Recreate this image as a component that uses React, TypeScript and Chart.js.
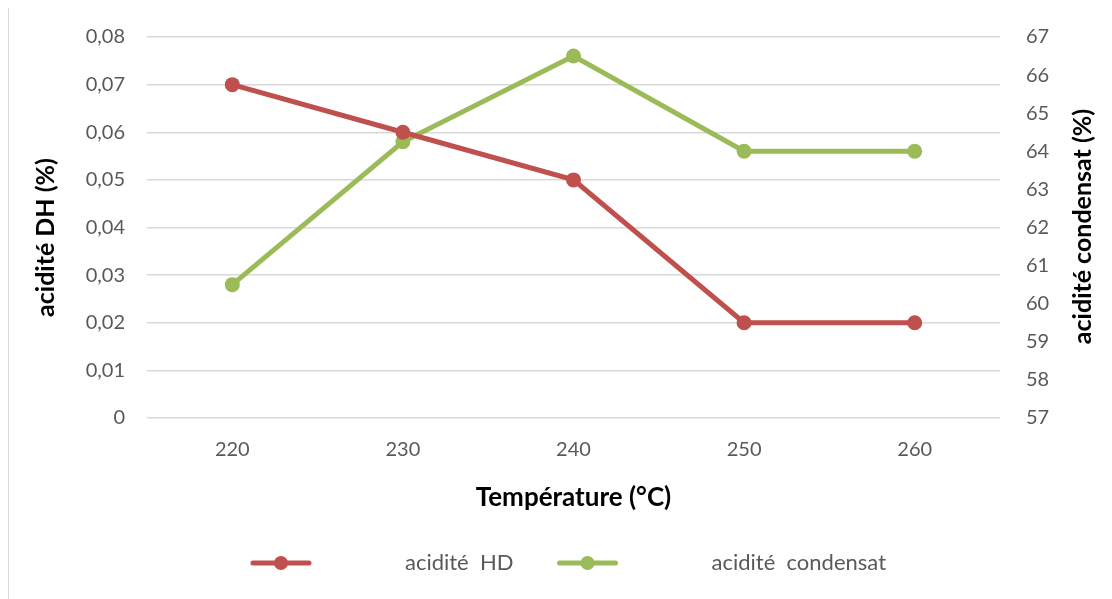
import React, { useEffect, useRef } from 'react';
import { Chart, registerables } from 'chart.js';

Chart.register(...registerables);

// Data
const temperatures = ['220', '230', '240', '250', '260'];
const aciditeHD = [0.07, 0.06, 0.05, 0.02, 0.02];
const aciditeCondensat = [60.5, 64.25, 66.5, 64, 64];
const seriesLabels = ['acidité  HD', 'acidité  condensat'];
const xTitle = 'Température (°C)';
const yLeftTitle = 'acidité DH (%)';
const yRightTitle = 'acidité condensat (%)';

const RED = '#C0504D';
const GREEN = '#9BBB59';
const GRID = '#D9D9D9';
const TEXT = '#595959';
const FONT = 'Lato, "Open Sans", sans-serif';

// Draws the two rotated y-axis titles and the bottom legend
const decorations = {
  id: 'decorations',
  afterDraw(chart: any) {
    const ctx = chart.ctx as CanvasRenderingContext2D;
    const area = chart.chartArea;
    const yL = chart.scales.y;
    const yR = chart.scales.y1;

    const drawVertical = (text: string, x: number, y: number) => {
      ctx.save();
      ctx.translate(x, y);
      ctx.rotate(-Math.PI / 2);
      ctx.font = `bold 25px ${FONT}`;
      ctx.fillStyle = '#000000';
      ctx.textAlign = 'center';
      ctx.textBaseline = 'middle';
      ctx.fillText(text, 0, 0);
      ctx.restore();
    };
    const midY = (area.top + area.bottom) / 2;
    drawVertical(yLeftTitle, yL.left + 37, midY + 10);
    drawVertical(yRightTitle, yR.right - 34, midY - 1);

    // legend
    ctx.save();
    ctx.font = `22px ${FONT}`;
    ctx.textBaseline = 'middle';
    ctx.textAlign = 'left';
    const symW = 56;
    const symGap = 96;
    const itemGap = 46;
    const colors = [RED, GREEN];
    const widths = seriesLabels.map((l) => ctx.measureText(l).width);
    const total = widths.reduce((s, w) => s + symW + symGap + w, 0) + itemGap;
    let x = (area.left + area.right) / 2 - 4 - total / 2;
    const ly = chart.height - 43;
    seriesLabels.forEach((label, i) => {
      ctx.strokeStyle = colors[i];
      ctx.lineWidth = 5;
      ctx.lineCap = 'round';
      ctx.beginPath();
      ctx.moveTo(x, ly);
      ctx.lineTo(x + symW, ly);
      ctx.stroke();
      ctx.fillStyle = colors[i];
      ctx.beginPath();
      ctx.arc(x + symW / 2, ly, 7, 0, Math.PI * 2);
      ctx.fill();
      ctx.fillStyle = TEXT;
      ctx.fillText(label, x + symW + symGap, ly);
      x += symW + symGap + widths[i] + itemGap;
    });
    ctx.restore();
  },
};

// Fixed axis box sizes; the tick-label overhang is not allowed to push the plot area
const fixWidth = (w: number) => (scale: any) => {
  scale.width = w;
  scale.paddingTop = 0;
  scale.paddingBottom = 0;
};

export default function App() {
  const canvasRef = useRef<HTMLCanvasElement | null>(null);

  useEffect(() => {
    document.body.style.overflow = 'hidden';
    const canvas = canvasRef.current;
    if (!canvas) return;
    const chart = new Chart(canvas, {
      type: 'line',
      data: {
        labels: temperatures,
        datasets: [
          {
            label: seriesLabels[0],
            data: aciditeHD,
            yAxisID: 'y',
            borderColor: RED,
            backgroundColor: RED,
            borderWidth: 5,
            pointRadius: 7.5,
            pointBorderWidth: 0,
            pointBackgroundColor: RED,
            tension: 0,
          },
          {
            label: seriesLabels[1],
            data: aciditeCondensat,
            yAxisID: 'y1',
            borderColor: GREEN,
            backgroundColor: GREEN,
            borderWidth: 5,
            pointRadius: 7.5,
            pointBorderWidth: 0,
            pointBackgroundColor: GREEN,
            tension: 0,
          },
        ],
      },
      options: {
        animation: false,
        responsive: true,
        maintainAspectRatio: false,
        layout: { padding: { top: 29, bottom: 80, left: 0, right: 0 } },
        plugins: {
          legend: { display: false },
          tooltip: { enabled: false },
        },
        scales: {
          x: {
            offset: true,
            grid: { display: false, drawTicks: false },
            border: { display: false },
            ticks: { color: TEXT, font: { family: FONT, size: 20 }, padding: 20 },
            title: {
              display: true,
              text: xTitle,
              color: '#000000',
              font: { family: FONT, size: 26, weight: 'bold' },
              padding: { top: 0, bottom: 13 },
            },
            afterFit(scale: any) {
              scale.height = 108;
            },
          },
          y: {
            position: 'left',
            min: 0,
            max: 0.08,
            ticks: {
              stepSize: 0.01,
              color: TEXT,
              font: { family: FONT, size: 20 },
              padding: 22,
              callback: (v: any) => (Number(v) === 0 ? '0' : Number(v).toFixed(2).replace('.', ',')),
            },
            grid: { color: GRID, lineWidth: 1.5, drawTicks: false },
            border: { display: false },
            afterFit: fixWidth(138),
          },
          y1: {
            position: 'right',
            min: 57,
            max: 67,
            ticks: {
              stepSize: 1,
              color: TEXT,
              font: { family: FONT, size: 20 },
              padding: 26,
            },
            grid: { display: false, drawTicks: false },
            border: { display: false },
            afterFit: fixWidth(117),
          },
        },
      },
      plugins: [decorations],
    });
    return () => chart.destroy();
  }, []);

  return (
    <div
      style={{
        width: 1108,
        height: 598,
        border: `1px solid ${GRID}`,
        marginTop: -1,
        position: 'relative',
        background: '#ffffff',
      }}
    >
      <canvas ref={canvasRef} />
    </div>
  );
}
